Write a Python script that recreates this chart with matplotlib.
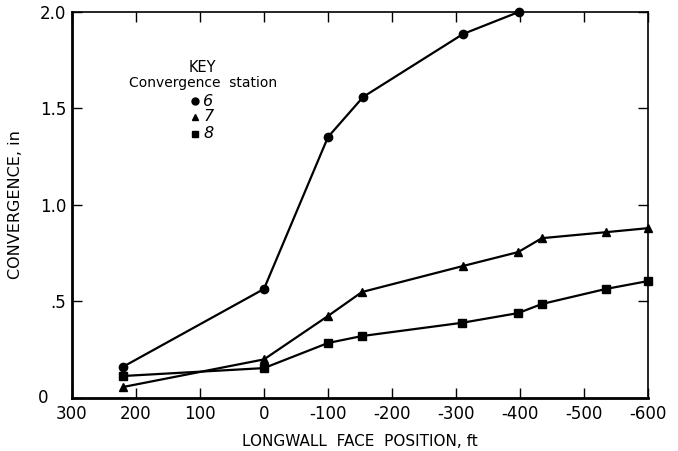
import matplotlib
matplotlib.use("Agg")
import matplotlib.pyplot as plt

# Data
x6 = [220, 0, -100, -155, -311, -398]
y6 = [0.162, 0.565, 1.352, 1.56, 1.886, 2.0]

x7 = [220, 0, -100, -153, -311, -397, -434, -534, -600]
y7 = [0.057, 0.20, 0.425, 0.549, 0.684, 0.756, 0.828, 0.859, 0.88]

x8 = [220, 0, -100, -153, -310, -397, -434, -534, -600]
y8 = [0.114, 0.155, 0.285, 0.321, 0.39, 0.44, 0.487, 0.565, 0.606]

xticks = [300, 200, 100, 0, -100, -200, -300, -400, -500, -600]
xticklabels = ["300", "200", "100", "0", "-100", "-200", "-300", "-400", "-500", "-600"]
yticks = [0, 0.5, 1.0, 1.5, 2.0]
yticklabels = ["0", ".5", "1.0", "1.5", "2.0"]

plt.rcParams['font.family'] = ['DejaVu Sans']

fig = plt.figure(figsize=(6.78, 4.51), dpi=100)
ax = fig.add_axes([0.106, 0.1175, 0.850, 0.856])

kw = dict(color='black', lw=1.6, markersize=6, clip_on=False, zorder=3)
ax.plot(x6, y6, marker='o', **kw)
ax.plot(x7, y7, marker='^', **kw)
ax.plot(x8, y8, marker='s', **kw)

ax.set_xlim(300, -600)
ax.set_ylim(0, 2.0)
ax.set_xticks(xticks)
ax.set_xticklabels(xticklabels)
ax.set_yticks(yticks)
# the "0" label sits further left in the reference; drawn separately below
ax.set_yticklabels([""] + yticklabels[1:])

ax.tick_params(direction='in', length=7, width=1, top=True, right=True,
               labelsize=12)
ax.tick_params(axis='x', pad=5)
ax.tick_params(axis='y', pad=4)
for s in ['left', 'bottom']:
    ax.spines[s].set_linewidth(2)
for s in ['top', 'right']:
    ax.spines[s].set_linewidth(1.2)

ax.annotate(yticklabels[0], xy=(0, yticks[0]), xycoords=('axes fraction', 'data'),
            xytext=(-17, 0), textcoords='offset points', ha='right', va='center',
            fontsize=12, annotation_clip=False)

ax.set_xlabel("LONGWALL  FACE  POSITION, ft", fontsize=11, labelpad=8)
ax.set_ylabel("CONVERGENCE, in", fontsize=11.5, labelpad=12)

# Key
ax.text(0.226, 0.857, "KEY", transform=ax.transAxes, ha='center', va='center', fontsize=10.5)
ax.text(0.228, 0.816, "Convergence  station", transform=ax.transAxes, ha='center', va='center', fontsize=10)
key_items = [('o', '6', 0.769), ('^', '7', 0.728), ('s', '8', 0.684)]
for m, lab, yy in key_items:
    ax.plot([0.2135], [yy], marker=m, color='black', markersize=5, transform=ax.transAxes, clip_on=False)
    ax.text(0.228, yy, lab, transform=ax.transAxes, ha='left', va='center', fontsize=11.5, style='italic')

fig.savefig("out.png", dpi=100)
